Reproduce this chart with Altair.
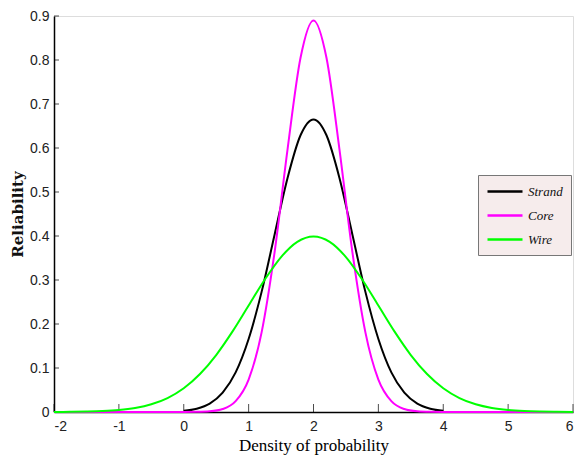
import altair as alt
import pandas as pd

# ---- data ----
wire_x = [-2, -1.75, -1.5, -1.25, -1, -0.75, -0.5, -0.25, 0, 0.25, 0.5, 0.75, 1, 1.25, 1.5, 1.75,
          2, 2.25, 2.5, 2.75, 3, 3.25, 3.5, 3.75, 4, 4.25, 4.5, 4.75, 5, 5.25, 5.5, 5.75, 6]
wire_y = [0.0001, 0.0004, 0.0009, 0.0020, 0.0044, 0.0091, 0.0175, 0.0317, 0.0540, 0.0863, 0.1295,
          0.1826, 0.2420, 0.3011, 0.3521, 0.3867, 0.3989, 0.3867, 0.3521, 0.3011, 0.2420, 0.1826,
          0.1295, 0.0863, 0.0540, 0.0317, 0.0175, 0.0091, 0.0044, 0.0020, 0.0009, 0.0004, 0.0001]

strand_x = [0, 0.2, 0.4, 0.6, 0.8, 1.0, 1.2, 1.4, 1.6, 1.8, 2.0, 2.2, 2.4, 2.6, 2.8, 3.0, 3.2,
            3.4, 3.6, 3.8, 4.0]
strand_y = [0.0026, 0.0074, 0.019, 0.044, 0.090, 0.166, 0.273, 0.403, 0.532, 0.629, 0.665,
            0.629, 0.532, 0.403, 0.273, 0.166, 0.090, 0.044, 0.019, 0.0074, 0.0026]

core_x = [-2, 0, 0.2, 0.4, 0.6, 0.8, 1.0, 1.2, 1.4, 1.6, 1.8, 2.0, 2.2, 2.4, 2.6, 2.8, 3.0, 3.2,
          3.4, 3.6, 3.8, 4.0, 6]
core_y = [0.0, 0.0, 0.0003, 0.0015, 0.0067, 0.0246, 0.0737, 0.181, 0.363, 0.597, 0.805, 0.89,
          0.805, 0.597, 0.363, 0.181, 0.0737, 0.0246, 0.0067, 0.0015, 0.0003, 0.0, 0.0]

series_names = ["Strand", "Core", "Wire"]
series_colors = ["#000000", "#ff00ff", "#00ff00"]

x_ticks = [-2, -1, 0, 1, 2, 3, 4, 5, 6]
y_ticks = [0, 0.1, 0.2, 0.3, 0.4, 0.5, 0.6, 0.7, 0.8, 0.9]

rows = []
for name, xs, ys in [("Strand", strand_x, strand_y),
                     ("Core", core_x, core_y),
                     ("Wire", wire_x, wire_y)]:
    for i, (a, b) in enumerate(zip(xs, ys)):
        rows.append({"series": name, "x": a, "y": b, "i": i})
df = pd.DataFrame(rows)

W, H = 519, 396
tick_font = "Liberation Sans Narrow, Arial Narrow, Liberation Sans, sans-serif"

xscale = alt.Scale(domain=[-2, 6], nice=False, zero=False)
yscale = alt.Scale(domain=[0, 0.9], nice=False)

lines = alt.Chart(df).mark_line(strokeWidth=2, interpolate="monotone").encode(
    x=alt.X("x:Q", scale=xscale,
            axis=alt.Axis(values=x_ticks, title="Density of probability", grid=False,
                          tickSize=0, labelPadding=7, labelExpr="datum.value + ''",
                          labelFont=tick_font, labelFontSize=14, labelColor="#222",
                          domainColor="#000", domainWidth=1.5,
                          titleFont="Liberation Serif, DejaVu Serif, serif", titleFontSize=17,
                          titleFontWeight="normal", titleColor="#000", titlePadding=4)),
    y=alt.Y("y:Q", scale=yscale,
            axis=alt.Axis(values=y_ticks, title="Reliability", grid=False,
                          tickSize=0, labelPadding=5, format="~f",
                          labelFont=tick_font, labelFontSize=14, labelColor="#222",
                          domainColor="#000", domainWidth=1.5,
                          titleFont="DejaVu Serif, Liberation Serif, serif", titleFontSize=15,
                          titleFontWeight="bold", titleColor="#111", titlePadding=4)),
    color=alt.Color("series:N",
                    scale=alt.Scale(domain=series_names, range=series_colors),
                    legend=alt.Legend(title=None, orient="none", legendX=424, legendY=159,
                                      symbolType="M-1,0H4", symbolSize=196,
                                      symbolStrokeWidth=2.5,
                                      labelFont="Liberation Serif, DejaVu Serif, serif",
                                      labelFontStyle="italic", labelFontSize=13,
                                      labelColor="#111",
                                      fillColor="#f6ecec", strokeColor="#777",
                                      padding=8, rowPadding=8, labelOffset=25)),
    order="i:Q",
    detail="series:N",
)

xt = pd.DataFrame({"v": x_ticks})
yt = pd.DataFrame({"v": y_ticks})
xticks = alt.Chart(xt).mark_tick(orient="vertical", size=8, thickness=1, color="#000").encode(
    x=alt.X("v:Q", scale=xscale), y=alt.value(H - 4))
yticks = alt.Chart(yt).mark_tick(orient="horizontal", size=5, thickness=1, color="#000").encode(
    y=alt.Y("v:Q", scale=yscale), x=alt.value(2.5))

chart = alt.layer(xticks, yticks, lines).properties(
    width=W, height=H,
    autosize=alt.AutoSizeParams(type="none"),
    padding={"left": 54, "top": 16, "right": 3, "bottom": 46},
).configure_view(stroke=None).configure(background="white")

chart.save("out.html", embed_options={"renderer": "svg", "actions": False})
